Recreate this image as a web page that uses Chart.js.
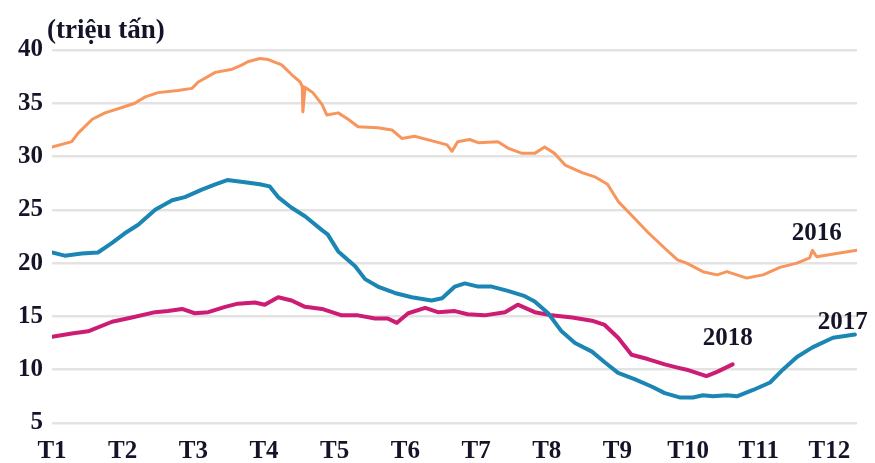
<!DOCTYPE html>
<html>
<head>
<meta charset="utf-8">
<script src="https://cdn.jsdelivr.net/npm/chart.js@4/dist/chart.umd.min.js"></script>
<style>
  html, body { margin: 0; padding: 0; background: #fff; }
  #wrap { width: 875px; height: 463px; }
</style>
</head>
<body>
<div id="wrap"><canvas id="chart" width="875" height="463"></canvas></div>
<script>
// month positions (0 = T1) and values, million tonnes
const monthLabels = ['T1','T2','T3','T4','T5','T6','T7','T8','T9','T10','T11','T12'];
const monthTicks = [0,1,2,3,4,5,6,7,8,9,10,11];
const yTicks = [5,10,15,20,25,30,35,40];

const s2016 = [
  [0,30.9],[0.28,31.4],[0.37,32.2],[0.57,33.5],[0.75,34.1],[0.99,34.6],[1.17,35.0],[1.32,35.6],
  [1.5,36.0],[1.78,36.2],[1.98,36.4],[2.07,37.0],[2.31,37.9],[2.55,38.2],[2.69,38.6],[2.77,38.9],
  [2.94,39.2],[3.06,39.1],[3.25,38.6],[3.39,37.7],[3.51,37.0],[3.54,36.6],[3.55,34.2],[3.58,36.5],
  [3.69,36.0],[3.82,34.9],[3.89,33.9],[4.05,34.1],[4.19,33.5],[4.33,32.8],[4.61,32.7],[4.81,32.5],
  [4.95,31.7],[5.13,31.9],[5.42,31.4],[5.59,31.1],[5.66,30.5],[5.74,31.4],[5.91,31.6],[6.03,31.3],
  [6.31,31.4],[6.45,30.8],[6.65,30.3],[6.83,30.3],[6.97,30.9],[7.11,30.3],[7.26,29.2],[7.5,28.5],
  [7.68,28.1],[7.86,27.4],[8.01,25.8],[8.2,24.5],[8.43,22.9],[8.67,21.4],[8.85,20.3],[8.98,20.0],
  [9.21,19.2],[9.41,18.9],[9.55,19.2],[9.83,18.6],[10.06,18.9],[10.3,19.6],[10.54,20.0],[10.72,20.5],
  [10.76,21.2],[10.82,20.6],[11.1,20.9],[11.39,21.2]
];
const s2017 = [
  [0,21.0],[0.18,20.7],[0.42,20.9],[0.65,21.0],[0.85,21.9],[1.03,22.8],[1.22,23.6],[1.46,25.0],
  [1.7,25.9],[1.88,26.2],[2.12,26.9],[2.31,27.4],[2.48,27.8],[2.73,27.6],[2.94,27.4],[3.08,27.2],
  [3.2,26.2],[3.39,25.2],[3.58,24.4],[3.82,23.1],[3.9,22.7],[4.05,21.1],[4.29,19.7],[4.43,18.5],
  [4.61,17.8],[4.85,17.2],[5.09,16.8],[5.37,16.5],[5.52,16.7],[5.7,17.8],[5.84,18.1],[6.03,17.8],
  [6.22,17.8],[6.45,17.4],[6.69,16.9],[6.83,16.4],[7.02,15.3],[7.21,13.6],[7.4,12.5],[7.64,11.7],
  [7.82,10.7],[8.01,9.7],[8.25,9.1],[8.49,8.4],[8.67,7.8],[8.88,7.4],[9.07,7.4],[9.21,7.6],
  [9.35,7.5],[9.55,7.6],[9.69,7.5],[9.92,8.1],[10.16,8.8],[10.34,10.0],[10.54,11.2],[10.76,12.1],
  [11.05,13.0],[11.36,13.3]
];
const s2018 = [
  [0,13.1],[0.28,13.4],[0.51,13.6],[0.85,14.5],[1.13,14.9],[1.46,15.4],[1.64,15.5],[1.84,15.7],
  [2.02,15.3],[2.21,15.4],[2.45,15.9],[2.63,16.2],[2.87,16.3],[3.01,16.1],[3.2,16.8],[3.39,16.5],
  [3.58,15.9],[3.82,15.7],[4.1,15.1],[4.33,15.1],[4.57,14.8],[4.75,14.8],[4.88,14.4],[5.04,15.3],
  [5.28,15.8],[5.46,15.4],[5.7,15.5],[5.88,15.2],[6.12,15.1],[6.41,15.4],[6.59,16.1],[6.83,15.4],
  [7.07,15.1],[7.36,14.9],[7.64,14.6],[7.82,14.2],[8.01,13.0],[8.2,11.4],[8.43,11.0],[8.67,10.5],
  [8.85,10.2],[8.98,10.0],[9.26,9.4],[9.41,9.8],[9.63,10.5]
];

// series name labels, placed in data coordinates
const seriesLabels = [
  { text: '2016', x: 10.82, y: 22.8 },
  { text: '2017', x: 11.19, y: 14.4 },
  { text: '2018', x: 9.56, y: 12.9 },
];

const textColor = '#141428';
const fontFamily = "'Liberation Serif', 'Times New Roman', serif";

const toPoints = arr => arr.map(([x, y]) => ({ x, y }));

const labelPlugin = {
  id: 'labels',
  afterDraw(chart) {
    const ctx = chart.ctx;
    const xs = chart.scales.x, ys = chart.scales.y;
    ctx.save();
    ctx.fillStyle = textColor;
    ctx.font = 'bold 25px ' + fontFamily;
    ctx.textAlign = 'center';
    ctx.textBaseline = 'middle';
    seriesLabels.forEach(l => {
      ctx.fillText(l.text, xs.getPixelForValue(l.x), ys.getPixelForValue(l.y));
    });
    // unit title
    ctx.font = 'bold 27px ' + fontFamily;
    ctx.textAlign = 'left';
    ctx.fillText('(triệu tấn)', chart.chartArea.left - 5, 31);
    ctx.restore();
  }
};

new Chart(document.getElementById('chart'), {
  type: 'line',
  data: {
    datasets: [
      { label: '2016', data: toPoints(s2016), borderColor: '#F8955C', borderWidth: 3 },
      { label: '2017', data: toPoints(s2017), borderColor: '#1B86B4', borderWidth: 4 },
      { label: '2018', data: toPoints(s2018), borderColor: '#CC1C74', borderWidth: 4 },
    ]
  },
  options: {
    responsive: false,
    animation: false,
    events: [],
    elements: { point: { radius: 0 }, line: { tension: 0, borderJoinStyle: 'round', borderCapStyle: 'round' } },
    layout: { padding: { left: 0, right: 18, top: 50, bottom: 0 } },
    plugins: { legend: { display: false }, tooltip: { enabled: false } },
    scales: {
      x: {
        type: 'linear',
        min: 0,
        max: 11.39,
        afterFit(scale) { scale.height = 40; },
        afterBuildTicks(scale) { scale.ticks = monthTicks.map(v => ({ value: v })); },
        grid: { display: false, drawTicks: false },
        border: { display: false },
        ticks: {
          padding: 14,
          color: textColor,
          font: { family: fontFamily, size: 25, weight: 'bold' },
          callback: v => monthLabels[v],
          maxRotation: 0,
          autoSkip: false
        }
      },
      y: {
        min: 5,
        max: 40,
        afterFit(scale) { scale.width = 52; },
        afterBuildTicks(scale) { scale.ticks = yTicks.map(v => ({ value: v })); },
        grid: { color: '#e3e3e3', lineWidth: 2.5, drawTicks: false },
        border: { display: false },
        ticks: {
          padding: 9,
          color: textColor,
          font: { family: fontFamily, size: 25, weight: 'bold' }
        }
      }
    }
  },
  plugins: [labelPlugin]
});
</script>
</body>
</html>
